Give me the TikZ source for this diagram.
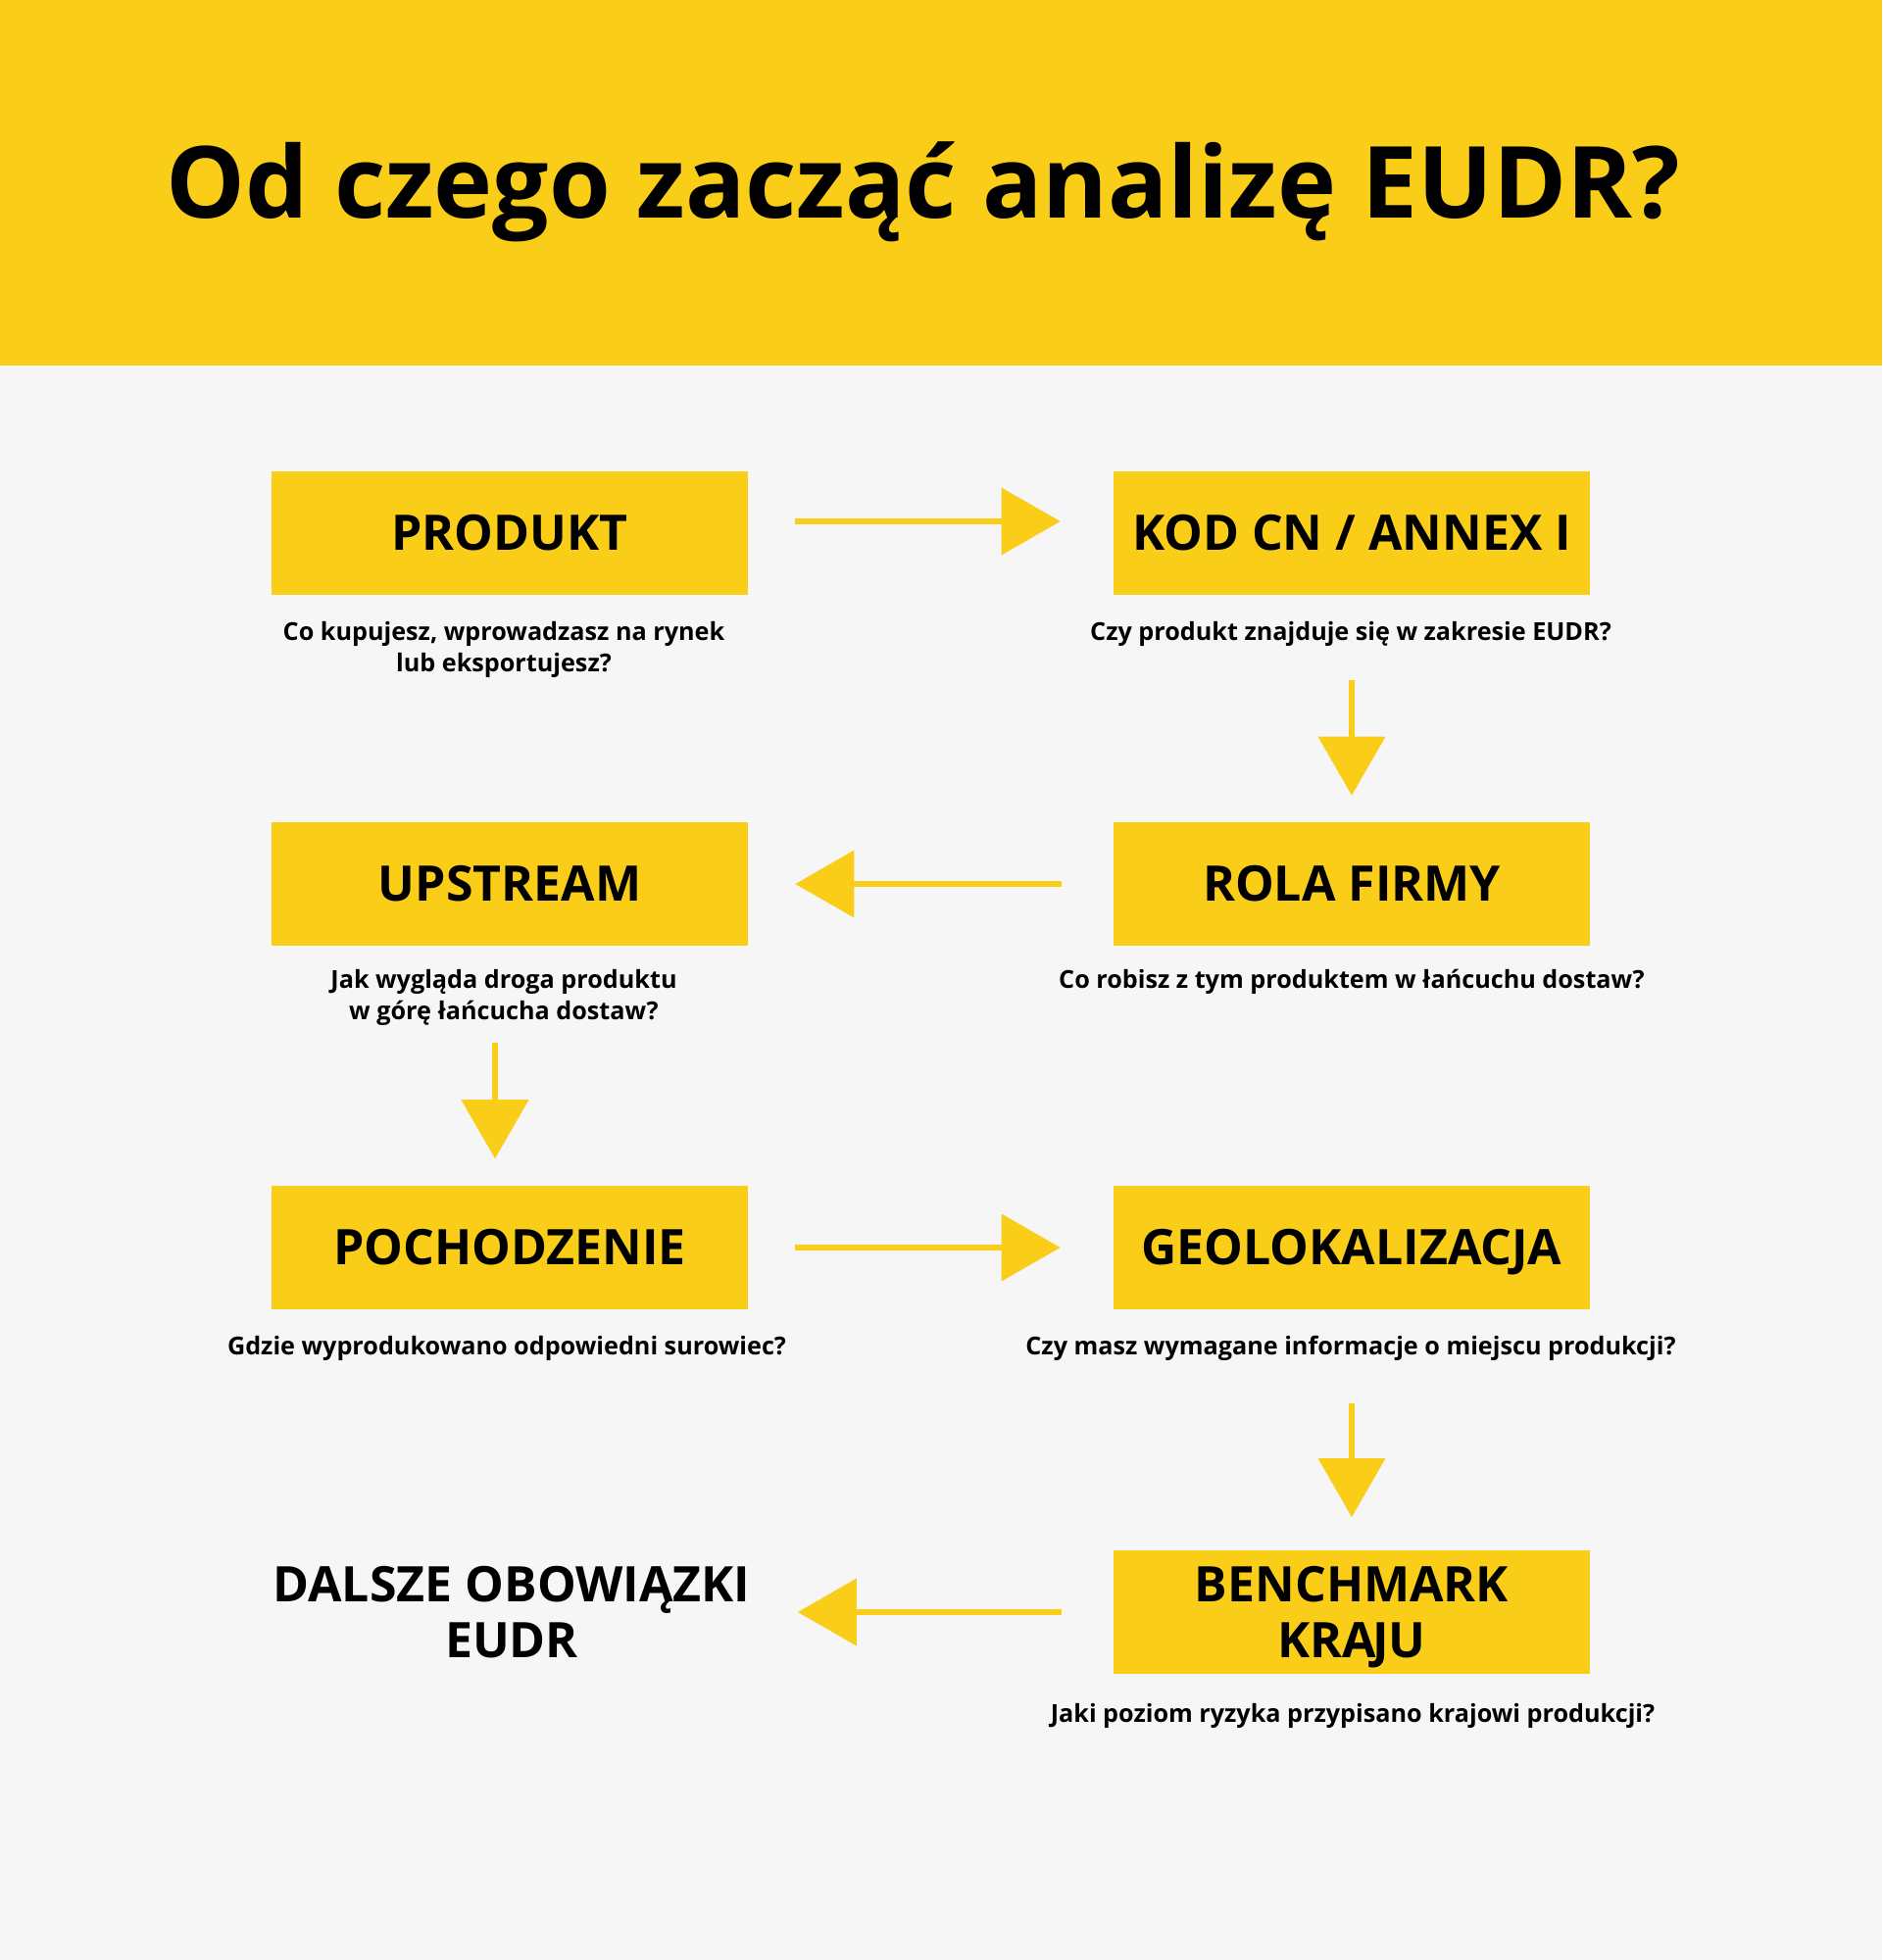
\documentclass[tikz,border=0pt]{standalone}
\usepackage{fontspec}
\setmainfont{Open Sans}
\usetikzlibrary{arrows.meta}
\definecolor{eudryellow}{RGB}{250,205,25}
\definecolor{paper}{RGB}{246,246,246}

\begin{document}
\begin{tikzpicture}[x=0.5pt,y=-0.5pt,
  stage/.style={fill=eudryellow,minimum width=243pt,minimum height=63pt,inner sep=0pt,
    align=center,text height=17.9pt,text depth=0pt,font=\fontsize{25}{28.5}\selectfont\bfseries},
  hint/.style={anchor=base,align=center,font=\fontsize{12.6}{16}\selectfont\bfseries},
  flow/.style={draw=eudryellow,line width=3.4pt,
    -{Triangle[length=30pt,width=34.5pt,line width=0pt]}}]
\useasboundingbox (0,0) rectangle (1920,2000);
\fill[paper] (0,0) rectangle (1920,2000);
\fill[eudryellow] (0,0) rectangle (1920,373);
\node [anchor=base,font=\fontsize{50.8}{60}\selectfont\bfseries] (title) at (942,223) {Od czego zacząć analizę EUDR?};

\node [stage] (produkt) at (520,544) {PRODUKT};
\node [stage] (kod) at (1379,544) {KOD CN / ANNEX I};
\node [stage] (upstream) at (520,902) {UPSTREAM};
\node [stage] (rola) at (1379,902) {ROLA FIRMY};
\node [stage] (pochodzenie) at (520,1273) {POCHODZENIE};
\node [stage] (geo) at (1379,1273) {GEOLOKALIZACJA};
\node [stage,text height=] (benchmark) at (1379,1645) {BENCHMARK\\KRA\kern-2pt JU};
\node [stage,fill=none,text height=] (dalsze) at (522,1645) {DALSZE OBOWIĄZKI\\EUDR};

\node [hint] (produkt-q) at (514,685) {Co kupujesz, wprowadzasz na rynek\\lub eksportujesz?};
\node [hint] (kod-q) at (1378,653) {Czy produkt znajduje się w zakresie EUDR?};
\node [hint] (upstream-q) at (514,1040) {Jak wygląda droga produktu\\w górę łańcucha dostaw?};
\node [hint] (rola-q) at (1379,1008) {Co robisz z tym produktem w łańcuchu dostaw?};
\node [hint] (pochodzenie-q) at (517,1382) {Gdzie wyprodukowano odpowiedni surowiec?};
\node [hint] (geo-q) at (1378,1382) {Czy masz wymagane informacje o miejscu produkcji?};
\node [hint] (benchmark-q) at (1380,1757) {Jaki poziom ryzyka przypisano krajowi produkcji?};

\draw [flow,shorten <=24pt,shorten >=27pt] ([yshift=6pt]produkt.east) -- ([yshift=6pt]kod.west);
\draw [flow,shorten <=43.5pt,shorten >=13.5pt] (kod.south) -- (rola.north);
\draw [flow,shorten <=26.5pt,shorten >=24pt] (rola.west) -- (upstream.east);
\draw [flow,shorten <=49.5pt,shorten >=13.7pt] ([xshift=-7.5pt]upstream.south) -- ([xshift=-7.5pt]pochodzenie.north);
\draw [flow,shorten <=24pt,shorten >=27pt] (pochodzenie.east) -- (geo.west);
\draw [flow,shorten <=47.8pt,shorten >=16.8pt] (geo.south) -- (benchmark.north);
\draw [flow,shorten <=26.5pt,shorten >=24pt] (benchmark.west) -- (dalsze.east);
\end{tikzpicture}
\end{document}
